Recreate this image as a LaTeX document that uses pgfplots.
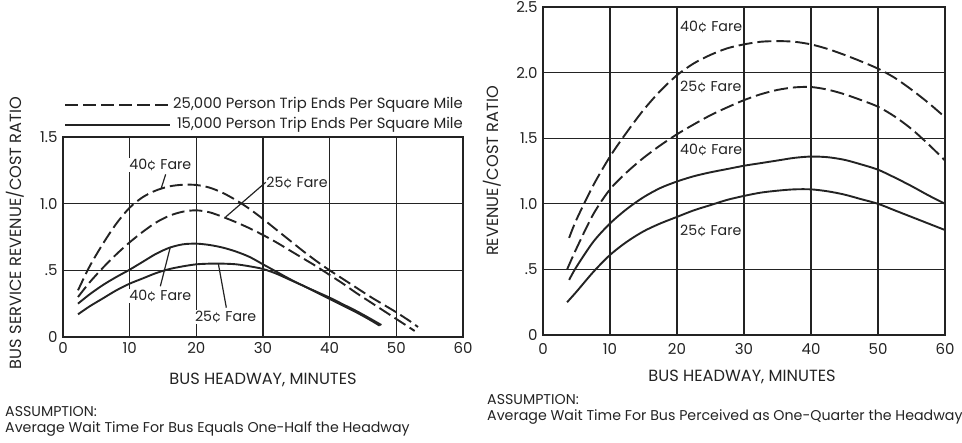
\documentclass[border=0pt]{standalone}
\usepackage{pgfplots}
\pgfplotsset{compat=1.18}
\usepackage{fontspec}
\setmainfont{Poppins}
\definecolor{ink}{RGB}{35,35,35}
\definecolor{txt}{RGB}{35,35,35}
\pgfplotstableread{
x y
2.25 0.35
4 0.53
6 0.70
8 0.85
10 0.97
12 1.05
14 1.10
16 1.13
18 1.142
20 1.14
22 1.12
24 1.08
26 1.025
28 0.96
30 0.885
32 0.805
34 0.725
36 0.645
38 0.57
40 0.50
42 0.435
44 0.37
46 0.305
48 0.245
50 0.185
52 0.12
53.25 0.075
}\LDforty
\pgfplotstableread{
x y
2.25 0.30
4 0.41
6 0.52
8 0.62
10 0.71
12 0.79
14 0.86
16 0.91
18 0.94
20 0.95
22 0.935
24 0.90
26 0.86
28 0.815
30 0.765
32 0.71
34 0.65
36 0.59
38 0.53
40 0.465
42 0.40
44 0.33
46 0.265
48 0.20
50 0.135
52 0.07
52.75 0.045
}\LDtwentyfive
\pgfplotstableread{
x y
2.25 0.25
4 0.32
6 0.39
8 0.45
10 0.505
12 0.565
14 0.625
16 0.67
18 0.695
20 0.70
22 0.69
24 0.67
26 0.64
28 0.60
30 0.545
32 0.49
34 0.435
36 0.385
38 0.34
40 0.295
42 0.245
44 0.195
46 0.14
47.75 0.09
}\LSforty
\pgfplotstableread{
x y
2.25 0.17
4 0.23
6 0.29
8 0.35
10 0.40
12 0.44
14 0.48
16 0.51
18 0.53
20 0.545
22 0.55
24 0.55
26 0.545
28 0.53
30 0.51
32 0.475
34 0.43
36 0.385
38 0.335
40 0.285
42 0.235
44 0.185
46 0.13
47.5 0.085
}\LStwentyfive
\pgfplotstableread{
x y
3.9 0.74
5 0.88
7.5 1.14
10 1.36
12.5 1.545
15 1.715
17.5 1.86
20 1.98
22.5 2.07
25 2.135
27.5 2.185
30 2.215
32.5 2.235
35 2.24
37.5 2.235
40 2.215
42.5 2.18
45 2.135
47.5 2.085
50 2.03
52.5 1.96
55 1.87
57.5 1.77
60 1.66
}\RDforty
\pgfplotstableread{
x y
3.6 0.50
5 0.66
7.5 0.92
10 1.11
12.5 1.24
15 1.35
17.5 1.445
20 1.53
22.5 1.605
25 1.675
27.5 1.735
30 1.79
32.5 1.835
35 1.868
37.5 1.887
40 1.89
42.5 1.87
45 1.835
47.5 1.79
50 1.74
52.5 1.665
55 1.57
57.5 1.455
60 1.33
}\RDtwentyfive
\pgfplotstableread{
x y
3.9 0.42
5 0.52
7.5 0.71
10 0.85
12.5 0.96
15 1.05
17.5 1.12
20 1.17
22.5 1.21
25 1.24
27.5 1.265
30 1.29
32.5 1.31
35 1.33
37.5 1.35
40 1.36
42.5 1.355
45 1.335
47.5 1.30
50 1.26
52.5 1.20
55 1.135
57.5 1.065
60 1.00
}\RSforty
\pgfplotstableread{
x y
3.6 0.25
5 0.33
7.5 0.48
10 0.61
12.5 0.71
15 0.79
17.5 0.85
20 0.90
22.5 0.95
25 0.99
27.5 1.03
30 1.06
32.5 1.085
35 1.10
37.5 1.11
40 1.11
42.5 1.095
45 1.07
47.5 1.035
50 1.00
52.5 0.95
55 0.90
57.5 0.85
60 0.80
}\RStwentyfive
\begin{document}
\begin{tikzpicture}
\path[use as bounding box] (0pt,0pt) rectangle (962pt,443pt);
\pgfplotsset{
  common/.style={
    scale only axis,
    anchor=south west,
    xmin=0,xmax=60,
    xtick={0,10,...,60},
    grid=major,
    grid style={ink,line width=1.3pt},
    axis line style={ink,line width=1.8pt},
    major tick length=0pt,
    tick label style={font=\fontsize{15}{17}\selectfont,text=txt},
    /pgf/number format/assume math mode=true,
    xticklabel style={yshift=-2pt},
    yticklabel style={xshift=-2pt},
  },
  crv/.style={ink,line width=1.9pt,smooth,tension=0.5,no marks},
  dsh/.style={crv,dash pattern=on 13pt off 5pt},
}
% ---------- left chart ----------
\begin{axis}[common,
  at={(63pt,106pt)}, width=400pt, height=200pt,
  ymin=0,ymax=1.5,
  ytick={0,0.5,1,1.5},
  yticklabels={0,.5,1.0,1.5},
]
\addplot[dsh] table {\LDforty};
\addplot[dsh] table {\LDtwentyfive};
\addplot[crv] table {\LSforty};
\addplot[crv] table {\LStwentyfive};
\begin{scope}[every node/.style={font=\fontsize{14.2}{16}\selectfont,text=txt,fill=white,inner sep=1pt}]
\node at (axis cs:14.6,1.29) {40¢ Fare};
\node at (axis cs:35.1,1.155) {25¢ Fare};
\node at (axis cs:14.6,0.31) {40¢ Fare};
\node at (axis cs:24.4,0.15) {25¢ Fare};
\end{scope}
\draw[ink,line width=1.2pt] (axis cs:15.4,1.22) -- (axis cs:14.7,1.11);
\draw[ink,line width=1.2pt] (axis cs:30.4,1.16) -- (axis cs:24.4,0.90);
\draw[ink,line width=1.2pt] (axis cs:14.6,0.38) -- (axis cs:16.1,0.675);
\draw[ink,line width=1.2pt] (axis cs:24.5,0.22) -- (axis cs:23.3,0.55);
\end{axis}
% ---------- right chart ----------
\begin{axis}[common,
  at={(543pt,108pt)}, width=402pt, height=328pt,
  ymin=0,ymax=2.5,
  ytick={0,0.5,1,1.5,2,2.5},
  yticklabels={0,.5,1.0,1.5,2.0,2.5},
  xticklabel style={yshift=-3pt},
]
\addplot[dsh,dash pattern=on 14pt off 5pt] table {\RDforty};
\addplot[dsh,dash pattern=on 14pt off 5pt] table {\RDtwentyfive};
\addplot[crv] table {\RSforty};
\addplot[crv] table {\RStwentyfive};
\begin{scope}[every node/.style={font=\fontsize{14.2}{16}\selectfont,text=txt,anchor=west,inner sep=1pt}]
\node at (axis cs:20.3,2.35) {40¢ Fare};
\node at (axis cs:20.3,1.89) {25¢ Fare};
\node at (axis cs:20.3,1.41) {40¢ Fare};
\node at (axis cs:20.3,0.79) {25¢ Fare};
\end{scope}
\end{axis}
% ---------- legend (left) ----------
\draw[ink,line width=1.9pt,dash pattern=on 13pt off 5pt] (65pt,338pt) -- (170pt,338pt);
\draw[ink,line width=1.9pt] (65pt,318pt) -- (170pt,318pt);
\begin{scope}[every node/.style={font=\fontsize{14.8}{16}\selectfont,text=txt,inner sep=0pt}]
\node[anchor=east] at (463pt,338pt) {25,000 Person Trip Ends Per Square Mile};
\node[anchor=east] at (463pt,318pt) {15,000 Person Trip Ends Per Square Mile};
\end{scope}
% ---------- axis titles ----------
\begin{scope}[every node/.style={font=\fontsize{16.2}{18}\selectfont,text=txt,inner sep=0pt}]
\node[rotate=90] at (15pt,210pt) {BUS SERVICE REVENUE/COST RATIO};
\node[rotate=90] at (492pt,272pt) {REVENUE/COST RATIO};
\node at (263pt,63pt) {BUS HEADWAY, MINUTES};
\node at (742pt,66pt) {BUS HEADWAY, MINUTES};
\end{scope}
% ---------- assumptions ----------
\begin{scope}[every node/.style={font=\fontsize{14.2}{16}\selectfont,text=txt,inner sep=0pt,anchor=west}]
\node at (5pt,31pt) {ASSUMPTION:};
\node at (5pt,14pt) {Average Wait Time For Bus Equals One-Half the Headway};
\node at (487pt,43pt) {ASSUMPTION:};
\node at (487pt,26pt) {Average Wait Time For Bus Perceived as One-Quarter the Headway};
\end{scope}
\end{tikzpicture}
\end{document}
